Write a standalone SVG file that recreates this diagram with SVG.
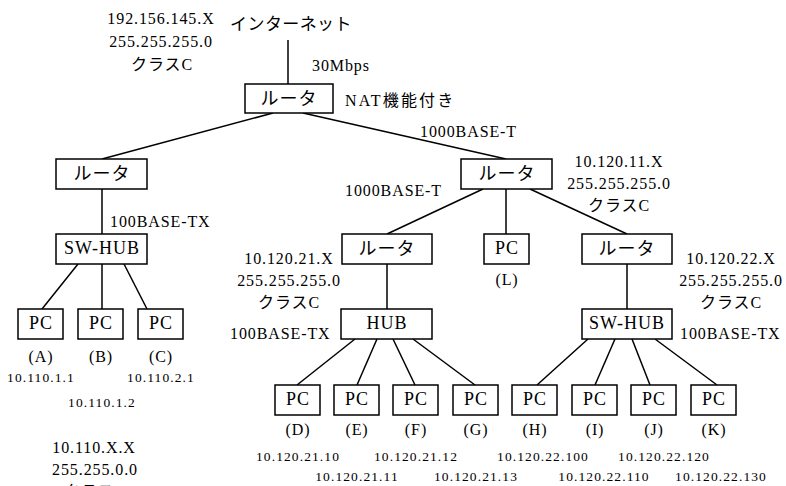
<svg xmlns="http://www.w3.org/2000/svg" width="786" height="486" viewBox="0 0 786 486">
<style>
text{font-family:"Liberation Serif","Noto Sans CJK JP",serif;fill:#000}
.t{font-size:16px;letter-spacing:0.9px}
.c{text-anchor:middle}
.s{font-size:13.5px;letter-spacing:1.1px;text-anchor:middle}
.b{font-size:18px;letter-spacing:1px;text-anchor:middle}
.j{font-size:17px;letter-spacing:0.4px;text-anchor:middle}
rect{fill:#fff;stroke:#000;stroke-width:1.5}
#connectors line{stroke:#000;stroke-width:1.5}
</style>
<rect x="0" y="0" width="786" height="486" style="stroke:none;fill:#fff"/>
<g id="connectors">
<line x1="288" y1="40" x2="288" y2="84"/>
<line x1="273" y1="113" x2="102" y2="159"/>
<line x1="303" y1="113" x2="506" y2="159"/>
<line x1="102" y1="189" x2="102" y2="234"/>
<line x1="78" y1="264" x2="42" y2="309"/>
<line x1="102" y1="264" x2="102" y2="309"/>
<line x1="124" y1="264" x2="147" y2="309"/>
<line x1="483" y1="189" x2="387" y2="234"/>
<line x1="506" y1="189" x2="506" y2="234"/>
<line x1="530" y1="189" x2="627" y2="234"/>
<line x1="387" y1="264" x2="387" y2="309"/>
<line x1="627" y1="264" x2="627" y2="309"/>
<line x1="355" y1="339" x2="297" y2="385"/>
<line x1="377" y1="339" x2="357" y2="385"/>
<line x1="393" y1="339" x2="415" y2="385"/>
<line x1="413" y1="339" x2="475" y2="385"/>
<line x1="588" y1="339" x2="537" y2="385"/>
<line x1="615" y1="339" x2="595" y2="385"/>
<line x1="632" y1="339" x2="650" y2="385"/>
<line x1="655" y1="339" x2="717" y2="385"/>
</g>
<g id="internet"><text class="j" x="291" y="30">インターネット</text></g>
<g id="router0"><rect x="245" y="84" width="88" height="29"/><text class="b" x="289" y="105">ルータ</text></g>
<g id="router1"><rect x="56" y="159" width="91" height="30"/><text class="b" x="102" y="180">ルータ</text></g>
<g id="router2"><rect x="461" y="159" width="91" height="30"/><text class="b" x="507" y="180">ルータ</text></g>
<g id="swhub1"><rect x="56" y="234" width="91" height="30"/><text class="b" x="102" y="254">SW-HUB</text></g>
<g id="router3"><rect x="342" y="234" width="90" height="30"/><text class="b" x="387" y="255">ルータ</text></g>
<g id="pcL"><rect x="484" y="234" width="45" height="30"/><text class="b" x="507" y="254">PC</text></g>
<g id="router4"><rect x="582" y="234" width="90" height="30"/><text class="b" x="627" y="255">ルータ</text></g>
<g id="pcA"><rect x="18" y="309" width="45" height="30"/><text class="b" x="41" y="329">PC</text></g>
<g id="pcB"><rect x="78" y="309" width="45" height="30"/><text class="b" x="101" y="329">PC</text></g>
<g id="pcC"><rect x="138" y="309" width="45" height="30"/><text class="b" x="161" y="329">PC</text></g>
<g id="hub"><rect x="341" y="309" width="91" height="30"/><text class="b" x="387" y="329">HUB</text></g>
<g id="swhub2"><rect x="582" y="309" width="90" height="30"/><text class="b" x="627" y="329">SW-HUB</text></g>
<g id="pcD"><rect x="275" y="385" width="45" height="30"/><text class="b" x="298" y="405">PC</text></g>
<g id="pcE"><rect x="334" y="385" width="45" height="30"/><text class="b" x="357" y="405">PC</text></g>
<g id="pcF"><rect x="393" y="385" width="45" height="30"/><text class="b" x="416" y="405">PC</text></g>
<g id="pcG"><rect x="453" y="385" width="45" height="30"/><text class="b" x="476" y="405">PC</text></g>
<g id="pcH"><rect x="512" y="385" width="45" height="30"/><text class="b" x="535" y="405">PC</text></g>
<g id="pcI"><rect x="572" y="385" width="45" height="30"/><text class="b" x="595" y="405">PC</text></g>
<g id="pcJ"><rect x="631" y="385" width="45" height="30"/><text class="b" x="654" y="405">PC</text></g>
<g id="pcK"><rect x="691" y="385" width="45" height="30"/><text class="b" x="714" y="405">PC</text></g>
<g id="labels">
<text class="t c" x="161" y="24">192.156.145.X</text>
<text class="t c" x="161" y="47">255.255.255.0</text>
<text class="t c" x="162" y="70">クラスC</text>
<text class="t" x="312" y="71">30Mbps</text>
<text class="t" x="345" y="106" style="letter-spacing:2.2px">NAT機能付き</text>
<text class="t" x="420" y="137">1000BASE-T</text>
<text class="t c" x="619" y="167">10.120.11.X</text>
<text class="t c" x="619" y="189">255.255.255.0</text>
<text class="t c" x="619" y="211">クラスC</text>
<text class="t" x="345" y="196">1000BASE-T</text>
<text class="t" x="110" y="227">100BASE-TX</text>
<text class="t c" x="289" y="264">10.120.21.X</text>
<text class="t c" x="289" y="286">255.255.255.0</text>
<text class="t c" x="289" y="308">クラスC</text>
<text class="t c" x="507" y="285">(L)</text>
<text class="t c" x="731" y="264">10.120.22.X</text>
<text class="t c" x="731" y="286">255.255.255.0</text>
<text class="t c" x="731" y="308">クラスC</text>
<text class="t" x="230" y="339">100BASE-TX</text>
<text class="t" x="680" y="339">100BASE-TX</text>
<text class="t c" x="41" y="362">(A)</text>
<text class="t c" x="101" y="362">(B)</text>
<text class="t c" x="161" y="362">(C)</text>
<text class="s" x="41" y="382">10.110.1.1</text>
<text class="s" x="161" y="382">10.110.2.1</text>
<text class="s" x="102" y="407">10.110.1.2</text>
<text class="t c" x="94" y="453">10.110.X.X</text>
<text class="t c" x="95" y="475">255.255.0.0</text>
<text class="t c" x="95" y="497">クラスB</text>
<text class="t c" x="298" y="435">(D)</text>
<text class="t c" x="357" y="435">(E)</text>
<text class="t c" x="416" y="435">(F)</text>
<text class="t c" x="476" y="435">(G)</text>
<text class="t c" x="535" y="435">(H)</text>
<text class="t c" x="595" y="435">(I)</text>
<text class="t c" x="654" y="435">(J)</text>
<text class="t c" x="714" y="435">(K)</text>
<text class="s" x="298" y="461">10.120.21.10</text>
<text class="s" x="416" y="461">10.120.21.12</text>
<text class="s" x="543" y="461">10.120.22.100</text>
<text class="s" x="664" y="461">10.120.22.120</text>
<text class="s" x="357" y="481">10.120.21.11</text>
<text class="s" x="476" y="481">10.120.21.13</text>
<text class="s" x="604" y="481">10.120.22.110</text>
<text class="s" x="721" y="481">10.120.22.130</text>
</g>
</svg>
